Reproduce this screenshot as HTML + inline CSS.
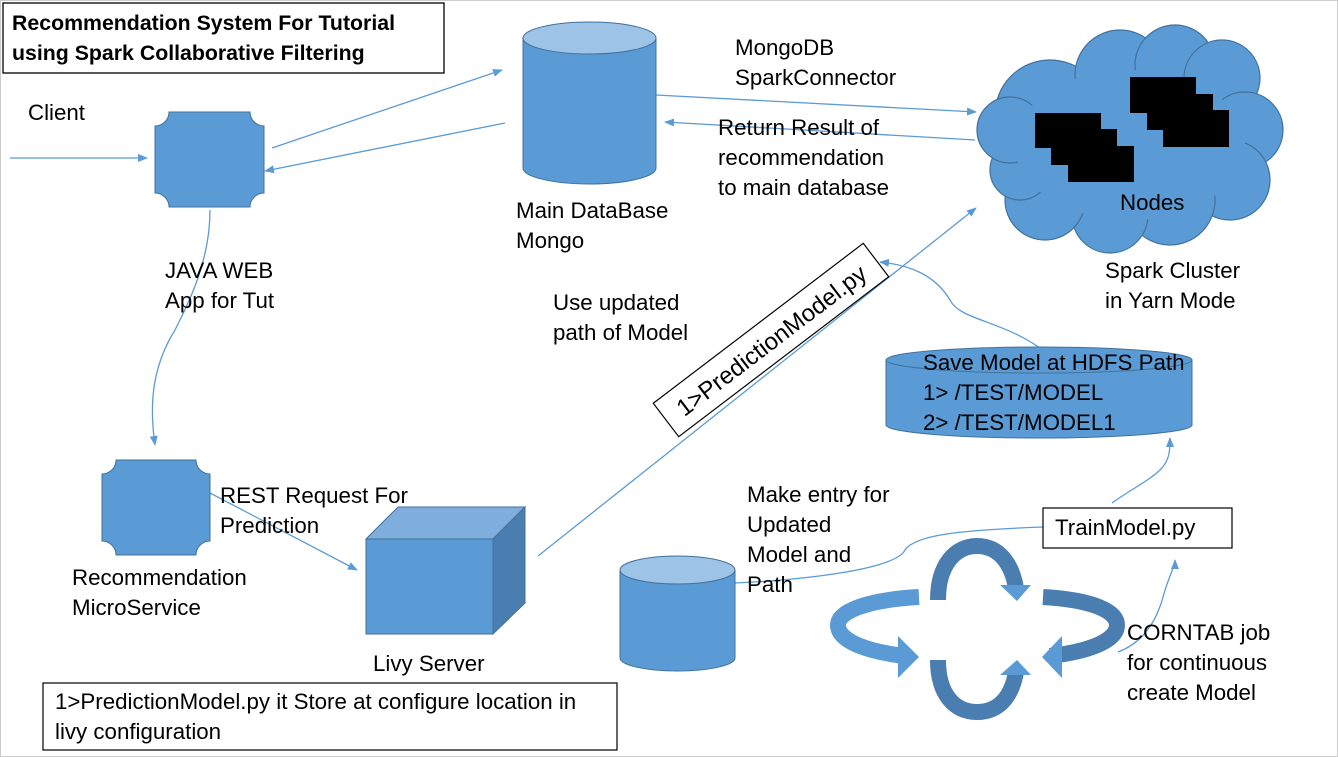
<!DOCTYPE html>
<html><head><meta charset="utf-8"><style>
html,body{margin:0;padding:0;background:#fff;}
svg{display:block;}
text{font-family:"Liberation Sans",sans-serif;font-size:22.3px;fill:#000;}
</style></head><body>
<svg width="1338" height="757" viewBox="0 0 1338 757">
<defs>
<marker id="a" markerWidth="10" markerHeight="8" refX="9" refY="4" orient="auto" markerUnits="userSpaceOnUse"><path d="M0,0 L10,4 L0,8 z" fill="#5B9BD5"/></marker>
</defs>
<rect x="0.5" y="0.5" width="1337" height="756" fill="#fff" stroke="#ccc"/>
<rect x="3" y="3" width="441" height="70" fill="#fff" stroke="#000" stroke-width="1.3"/>
<text x="12" y="30" style="font-weight:bold;font-size:21.3px">Recommendation System For Tutorial</text>
<text x="12" y="60" style="font-weight:bold;font-size:21.3px">using Spark Collaborative Filtering</text>
<text x="28" y="120">Client</text>
<g stroke="#5B9BD5" stroke-width="1.3" fill="none">
<line x1="10" y1="158" x2="147" y2="158" marker-end="url(#a)"/>
<line x1="272" y1="148" x2="502" y2="70" marker-end="url(#a)"/>
<line x1="505" y1="123" x2="265" y2="171" marker-end="url(#a)"/>
<line x1="656" y1="95" x2="976" y2="112" marker-end="url(#a)"/>
<line x1="975" y1="140" x2="665" y2="122" marker-end="url(#a)"/>
<path d="M210,210 C210,260 190,300 175,330 C150,370 150,410 155,445" marker-end="url(#a)"/>
<line x1="210" y1="493" x2="357" y2="570" marker-end="url(#a)"/>
<line x1="538" y1="556" x2="976" y2="208" marker-end="url(#a)"/>
<path d="M1040,348 C1000,320 960,320 950,300 C935,275 910,265 880,262" marker-end="url(#a)"/>
<path d="M1043,527 C960,530 915,535 905,550 C895,570 800,580 735,583"/>
<path d="M1112,503 C1130,490 1150,480 1160,470 C1170,460 1170,450 1170,438" marker-end="url(#a)"/>
<path d="M1118,652 C1150,640 1160,610 1165,590 C1170,575 1175,565 1175,560" marker-end="url(#a)"/>
</g>
<path d="M169,112 H250 A14,14 0 0 0 264,126 V193 A14,14 0 0 0 250,207 H169 A14,14 0 0 0 155,193 V126 A14,14 0 0 0 169,112 Z" fill="#5B9BD5" stroke="#41719C"/>
<path d="M116,460 H196 A14,14 0 0 0 210,474 V541 A14,14 0 0 0 196,555 H116 A14,14 0 0 0 102,541 V474 A14,14 0 0 0 116,460 Z" fill="#5B9BD5" stroke="#41719C"/>
<path d="M523,38 V168 A66.5,16 0 0 0 656,168 V38 Z" fill="#5B9BD5" stroke="#41719C"/>
<ellipse cx="589.5" cy="38" rx="66.5" ry="16" fill="#9DC3E6" stroke="#41719C"/>
<text x="735" y="55">MongoDB</text>
<text x="735" y="85">SparkConnector</text>
<text x="718" y="135">Return Result of</text>
<text x="718" y="165">recommendation</text>
<text x="718" y="195">to main database</text>
<text x="516" y="218">Main DataBase</text>
<text x="516" y="248">Mongo</text>
<g fill="#5B9BD5" stroke="#41719C" stroke-width="1.2">
<circle cx="1050" cy="115" r="55"/><circle cx="1120" cy="75" r="45"/><circle cx="1175" cy="65" r="40"/><circle cx="1222" cy="78" r="38"/>
<circle cx="1245" cy="130" r="38"/><circle cx="1230" cy="180" r="40"/><circle cx="1170" cy="200" r="45"/><circle cx="1110" cy="215" r="38"/>
<circle cx="1045" cy="200" r="40"/><circle cx="1020" cy="170" r="30"/><circle cx="1010" cy="130" r="33"/>
</g>
<g fill="#5B9BD5"><ellipse cx="1130" cy="145" rx="115" ry="75"/></g>
<g fill="#000">
<rect x="1035" y="113" width="66" height="35"/><rect x="1051" y="129" width="66" height="36"/><rect x="1068" y="146" width="66" height="36"/>
<rect x="1130" y="77" width="66" height="36"/><rect x="1147" y="94" width="66" height="36"/><rect x="1163" y="110" width="66" height="37"/>
</g>
<text x="1120" y="210">Nodes</text>
<text x="1105" y="278">Spark Cluster</text>
<text x="1105" y="308">in Yarn Mode</text>
<text x="165" y="278">JAVA WEB</text>
<text x="165" y="308">App for Tut</text>
<text x="553" y="310">Use updated</text>
<text x="553" y="340">path of Model</text>
<g transform="translate(771,340) rotate(-37.3)">
<rect x="-132" y="-21" width="264" height="42" fill="#fff" stroke="#000" stroke-width="1.2"/>
<text x="0" y="9" text-anchor="middle" style="font-size:24px">1&gt;PredictionModel.py</text>
</g>
<path d="M886,360 V425 A153,13 0 0 0 1192,425 V360 Z" fill="#5B9BD5" stroke="#41719C"/>
<ellipse cx="1039" cy="360" rx="153" ry="13" fill="#5B9BD5" stroke="#41719C"/>
<text x="923" y="370">Save Model at HDFS Path</text>
<text x="923" y="400">1&gt; /TEST/MODEL</text>
<text x="923" y="430">2&gt; /TEST/MODEL1</text>
<text x="220" y="503">REST Request For</text>
<text x="220" y="533">Prediction</text>
<text x="72" y="585">Recommendation</text>
<text x="72" y="615">MicroService</text>
<path d="M366,539 L398,507 H525 L493,539 Z" fill="#7FAEDD" stroke="#41719C"/>
<path d="M493,539 L525,507 V603 L493,634 Z" fill="#4A7EB0" stroke="#41719C"/>
<rect x="366" y="539" width="127" height="95" fill="#5B9BD5" stroke="#41719C"/>
<text x="373" y="671">Livy Server</text>
<rect x="43" y="683" width="574" height="67" fill="#fff" stroke="#000" stroke-width="1.2"/>
<text x="55" y="709">1&gt;PredictionModel.py it Store at configure location in</text>
<text x="55" y="739">livy configuration</text>
<path d="M620,570 V658 A57.5,13 0 0 0 735,658 V570 Z" fill="#5B9BD5" stroke="#41719C"/>
<ellipse cx="677.5" cy="570" rx="57.5" ry="14" fill="#9DC3E6" stroke="#41719C"/>
<text x="747" y="502">Make entry for</text>
<text x="747" y="532">Updated</text>
<text x="747" y="562">Model and</text>
<text x="747" y="592">Path</text>
<rect x="1043" y="508" width="189" height="40" fill="#fff" stroke="#000" stroke-width="1.2"/>
<text x="1055" y="535">TrainModel.py</text>
<text x="1127" y="640">CORNTAB job</text>
<text x="1127" y="670">for continuous</text>
<text x="1127" y="700">create Model</text>
<g fill="none" stroke-width="16">
<path d="M938,600 C938,565 955,546 977,546 C1000,546 1012,565 1016,588" stroke="#4A7EB0"/>
<path d="M919,597 C865,600 838,612 838,625 C838,642 870,652 905,656" stroke="#5B9BD5"/>
<path d="M1043,597 C1095,600 1117,612 1117,625 C1117,642 1085,652 1050,656" stroke="#4A7EB0"/>
<path d="M938,660 C938,695 955,712 977,712 C1000,712 1012,695 1016,672" stroke="#4A7EB0"/>
</g>
<g fill="#5B9BD5">
<polygon points="1000,585 1031,585 1017,601"/>
<polygon points="898,636 919,657 898,678"/>
<polygon points="1062,636 1042,657 1062,678"/>
<polygon points="1000,675 1031,675 1017,660"/>
</g>
</svg>
</body></html>
